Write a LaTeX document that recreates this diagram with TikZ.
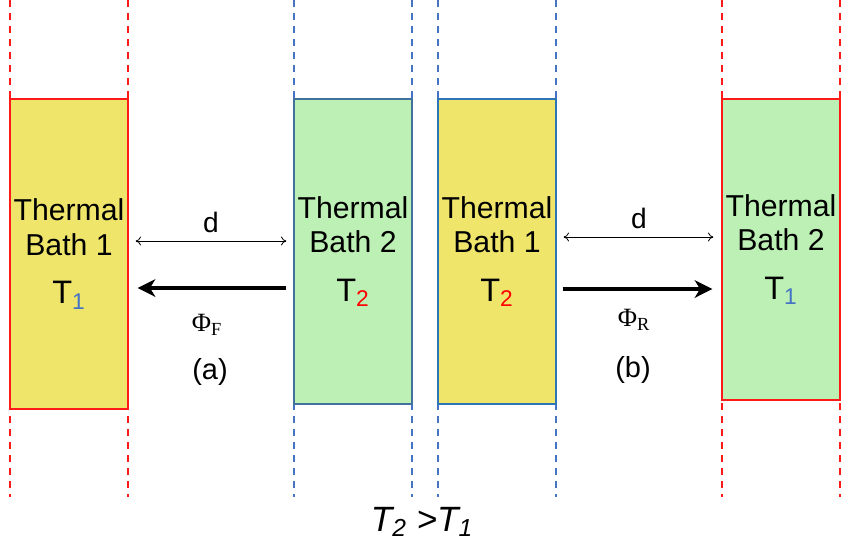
\documentclass[tikz,border=0pt]{standalone}
\usepackage{fontspec}
\setmainfont{Liberation Sans}
\newfontfamily\serifphi{Liberation Serif}
\usetikzlibrary{arrows.meta}

\definecolor{bathyellow}{HTML}{EFE56B}
\definecolor{bathgreen}{HTML}{BDF0B4}
\definecolor{edgered}{HTML}{FF1A1A}
\definecolor{edgeblue}{HTML}{41719C}
\definecolor{edgebluec}{HTML}{2E75B6}
\definecolor{guideblue}{HTML}{4472C4}

\begin{document}
\begin{tikzpicture}[
    x=0.02cm, y=-0.02cm,
    bathbox/.style={
        draw,
        line width=0.8pt,
        align=center,
        inner sep=0pt,
        minimum width=2.36cm,
        font=\fontsize{17.2}{19.6}\selectfont
    },
    guide/.style={line width=1.1pt, dash pattern=on 4pt off 3.4pt},
    dimarrow/.style={{To[length=3pt,width=5pt]}-{To[length=3pt,width=5pt]}, line width=0.45pt},
    fluxarrow/.style={-{Stealth[length=10pt,width=10pt,inset=3pt]}, line width=2.2pt},
    lbl/.style={font=\fontsize{16.5}{18}\selectfont},
    fluxlbl/.style={font=\fontsize{15}{16}\serifphi}
]
\useasboundingbox (0,0) rectangle (841,555);

\coordinate (top) at (0,0);
\coordinate (bot) at (0,497);
\coordinate (dimA) at (0,241);
\coordinate (fluxA) at (0,288);
\coordinate (dimB) at (0,237);
\coordinate (fluxB) at (0,289);

% dashed guides
\draw[guide, edgered] (10,0) -- (10,497);
\draw[guide, edgered] (128,0) -- (128,497);
\draw[guide, guideblue] (294,0) -- (294,497);
\draw[guide, guideblue] (412,0) -- (412,497);
\draw[guide, guideblue] (438,0) -- (438,497);
\draw[guide, guideblue] (556,0) -- (556,497);
\draw[guide, edgered] (722,0) -- (722,497);
\draw[guide, edgered] (840,0) -- (840,497);

\node[bathbox, fill=bathyellow, draw=edgered, minimum height=6.2cm] (bathA) at (69,254)
    {Thermal\\Bath 1\\[8pt]{\fontsize{18.5}{20}\selectfont T\textsubscript{\color{guideblue}1}}};
\node[bathbox, fill=bathgreen, draw=edgeblue, minimum height=6.1cm] (bathB) at (353,251.5)
    {Thermal\\Bath 2\\[8pt]{\fontsize{18.5}{20}\selectfont T\textsubscript{\color{red}2}}};
\node[bathbox, fill=bathyellow, draw=edgebluec, minimum height=6.1cm] (bathC) at (497,251.5)
    {Thermal\\Bath 1\\[8pt]{\fontsize{18.5}{20}\selectfont T\textsubscript{\color{red}2}}};
\node[bathbox, fill=bathgreen, draw=edgered, minimum height=6.02cm] (bathD) at (781,249.5)
    {Thermal\\Bath 2\\[8pt]{\fontsize{18.5}{20}\selectfont T\textsubscript{\color{guideblue}1}}};

% (a)
\draw[dimarrow, shorten <=0.14cm, shorten >=0.14cm] (bathA.east |- dimA) -- (bathB.west |- dimA)
    node[midway, above=1pt, font=\fontsize{16}{17}\selectfont] {d};
\draw[fluxarrow, shorten <=0.14cm, shorten >=0.18cm] (bathB.west |- fluxA) -- (bathA.east |- fluxA);
\node[fluxlbl] (phiF) at (207,325) {Φ\textsubscript{F}};
\node[lbl] (labA) at (210,372) {(a)};

% (b)
\draw[dimarrow, shorten <=0.14cm, shorten >=0.16cm] (bathC.east |- dimB) -- (bathD.west |- dimB)
    node[midway, above=1pt, font=\fontsize{16}{17}\selectfont] {d};
\draw[fluxarrow, shorten <=0.12cm, shorten >=0.18cm] (bathC.east |- fluxB) -- (bathD.west |- fluxB);
\node[fluxlbl] (phiR) at (634,320) {Φ\textsubscript{R}};
\node[lbl] (labB) at (633,370) {(b)};

\node[font=\fontsize{20}{22}\selectfont\itshape] (cond) at (422,522)
    {T\textsubscript{2} >T\textsubscript{1}};

\end{tikzpicture}
\end{document}
